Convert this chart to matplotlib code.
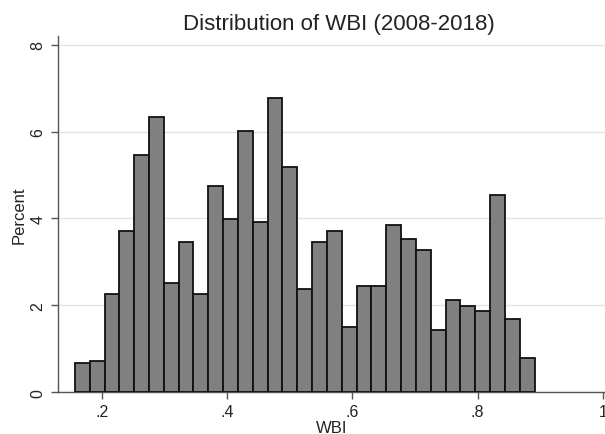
import numpy as np
import matplotlib
matplotlib.use("Agg")
import matplotlib.pyplot as plt

plt.rcParams["font.family"] = ["Liberation Sans", "DejaVu Sans"]

# Histogram: 31 bins between min and max WBI
wbi_min = 0.1566
wbi_max = 0.891
percent = [0.67, 0.73, 2.26, 3.72, 5.45, 6.34, 2.52, 3.47, 2.26, 4.75,
           3.98, 6.02, 3.91, 6.78, 5.19, 2.38, 3.47, 3.72, 1.50, 2.45,
           2.45, 3.85, 3.53, 3.28, 1.43, 2.13, 1.99, 1.87, 4.55, 1.69,
           0.79]

x_ticks = [0.2, 0.4, 0.6, 0.8, 1.0]
x_tick_labels = [".2", ".4", ".6", ".8", "1"]
y_ticks = [0, 2, 4, 6, 8]

edges = np.linspace(wbi_min, wbi_max, len(percent) + 1)
widths = np.diff(edges)

fig = plt.figure(figsize=(6.05, 4.35), dpi=100)
ax = fig.add_axes([0.0959, 0.0959, 0.9041, 0.819])

ax.bar(edges[:-1], percent, width=widths, align="edge",
       color="#808080", edgecolor="#111111", linewidth=1.3, zorder=3)

ax.set_xlim(0.1297, 1.0035)
ax.set_ylim(0, 8.2)

ax.set_xticks(x_ticks)
ax.set_xticklabels(x_tick_labels)
ax.set_yticks(y_ticks)
ax.set_yticklabels([str(v) for v in y_ticks], rotation=90, va="center")

ax.grid(axis="y", color="#e3e3e3", linewidth=1.0, zorder=0)
ax.tick_params(axis="both", direction="out", length=5, width=1,
               color="#555555", labelsize=11.5, labelcolor="#222222")
ax.tick_params(axis="y", pad=4)

for side in ["top", "right"]:
    ax.spines[side].set_visible(False)
for side in ["left", "bottom"]:
    ax.spines[side].set_color("#555555")
    ax.spines[side].set_linewidth(1.0)

ax.set_xlabel("WBI", fontsize=12, color="#222222", labelpad=1)
ax.set_ylabel("Percent", fontsize=12, color="#222222", labelpad=3)
ax.set_title("Distribution of WBI (2008-2018)", fontsize=16,
             color="#222222", pad=5, x=0.513)

fig.savefig("out.png", dpi=100)
